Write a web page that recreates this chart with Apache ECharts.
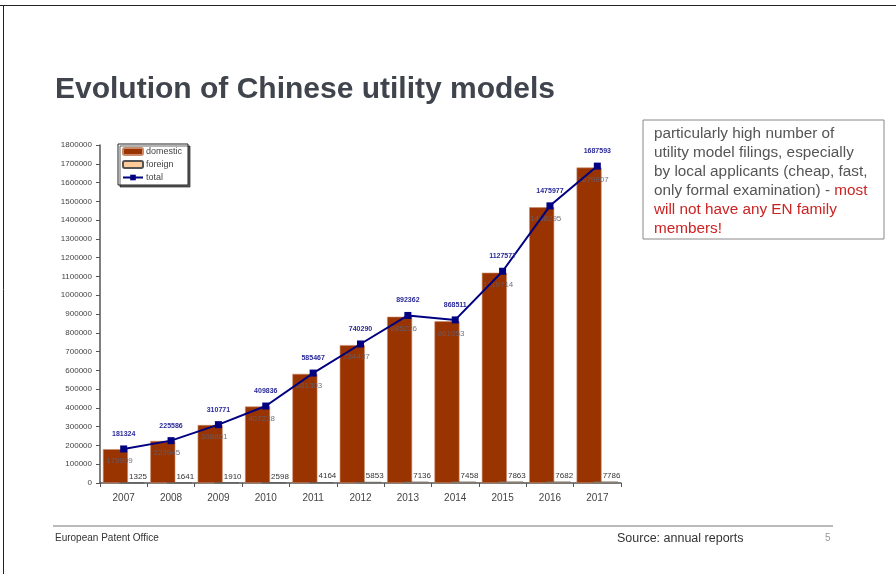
<!DOCTYPE html>
<html>
<head>
<meta charset="utf-8">
<script src="https://cdn.jsdelivr.net/npm/echarts@6/dist/echarts.min.js"></script>
<style>html,body{margin:0;padding:0;background:#fff}#c{width:896px;height:574px}</style>
</head>
<body>
<div id="c"></div>
<script>
const years = ['2007','2008','2009','2010','2011','2012','2013','2014','2015','2016','2017'];
const domestic = [179999,223945,308861,407238,581303,734437,885226,861053,1119714,1468295,1679807];
const foreign = [1325,1641,1910,2598,4164,5853,7136,7458,7863,7682,7786];
const total = [181324,225586,310771,409836,585467,740290,892362,868511,1127577,1475977,1687593];

const chart = echarts.init(document.getElementById('c'));
const F = 'Liberation Sans, Arial, sans-serif';
chart.setOption({
  animation: false,
  backgroundColor: '#fff',
  textStyle: {fontFamily: F},
  title: {
    text: 'Evolution of Chinese utility models',
    left: 50, top: 70,
    textStyle: {fontFamily: F, fontSize: 30, fontWeight: 'bold', color: '#40454d'}
  },
  grid: {left: 100, right: 275, top: 145, bottom: 91},
  legend: {
    orient: 'vertical', left: 118, top: 144,
    padding: [3, 6, 3, 4],
    itemWidth: 20, itemHeight: 7, itemGap: 4,
    backgroundColor: '#fff', borderColor: '#222', borderWidth: 1,
    shadowColor: 'rgba(0,0,0,0.6)', shadowOffsetX: 2, shadowOffsetY: 2, shadowBlur: 0,
    textStyle: {fontFamily: F, fontSize: 9, color: '#444', padding: [0,0,0,-2]},
    data: ['domestic', 'foreign', 'total']
  },
  xAxis: {
    type: 'category', data: years,
    axisLine: {lineStyle: {color: '#555', width: 1.5}},
    axisTick: {show: true, length: 4, lineStyle: {color: '#555'}},
    axisLabel: {fontFamily: F, fontSize: 10, color: '#444', margin: 10}
  },
  yAxis: {
    type: 'value', min: 0, max: 1800000, interval: 100000,
    axisLine: {show: true, lineStyle: {color: '#555', width: 1.5}},
    axisTick: {show: true, length: 4, lineStyle: {color: '#555'}},
    splitLine: {show: false},
    axisLabel: {fontFamily: F, fontSize: 8, color: '#444', margin: 8, formatter: v => String(v)}
  },
  series: [
    {
      name: 'domestic', type: 'bar', data: domestic,
      barWidth: 25, barGap: '-34%',
      itemStyle: {color: '#993300', borderColor: '#c98a6a', borderWidth: 0.6},
      label: {show: true, position: 'insideTop', distance: 8, offset: [4, 0],
        fontFamily: F, fontSize: 8, color: 'rgba(100,95,110,0.9)'}
    },
    {
      name: 'foreign', type: 'bar', data: foreign,
      barWidth: 25,
      itemStyle: {color: '#FFCC99', borderColor: '#555', borderWidth: 0.6},
      label: {show: true, position: 'top', distance: 2, offset: [6, 0],
        fontFamily: F, fontSize: 8, color: '#333'}
    },
    {
      name: 'total', type: 'line', data: total, z: 5,
      symbol: 'rect', symbolSize: 7,
      lineStyle: {color: '#000080', width: 2},
      itemStyle: {color: '#000080'},
      label: {show: true, position: 'top', distance: 8,
        fontFamily: F, fontSize: 7, fontWeight: 'bold', color: '#2a2a9a'}
    }
  ],
  graphic: [
    {type: 'line', shape: {x1: 0, y1: 5.5, x2: 896, y2: 5.5}, style: {stroke: '#222', lineWidth: 1}},
    {type: 'line', shape: {x1: 3.5, y1: 5, x2: 3.5, y2: 574}, style: {stroke: '#222', lineWidth: 1}},
    {type: 'rect', shape: {x: 643, y: 120, width: 241, height: 119},
      style: {fill: '#fff', stroke: '#888', lineWidth: 1}},
    {type: 'text', left: 654, top: 126,
      style: {
        text: '{g|particularly high number of}\n{g|utility model filings, especially}\n{g|by local applicants (cheap, fast,}\n{g|only formal examination) - }{r|most}\n{r|will not have any EN family}\n{r|members!}',
        rich: {
          g: {fontFamily: F, fontSize: 15.3, fill: '#555', lineHeight: 19},
          r: {fontFamily: F, fontSize: 15.3, fill: '#cc2222', lineHeight: 19}
        }
      }},
    {type: 'line', shape: {x1: 53, y1: 526, x2: 833, y2: 526}, style: {stroke: '#777', lineWidth: 1}},
    {type: 'text', left: 55, top: 533, style: {text: 'European Patent Office', font: '10px ' + F, fill: '#333'}},
    {type: 'text', left: 617, top: 532, style: {text: 'Source: annual reports', font: '12.5px ' + F, fill: '#333'}},
    {type: 'text', left: 825, top: 533, style: {text: '5', font: '10px ' + F, fill: '#999'}}
  ]
});
</script>
</body>
</html>
